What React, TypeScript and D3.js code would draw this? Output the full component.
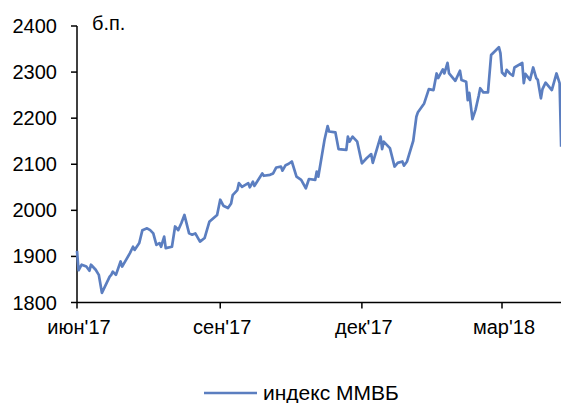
import * as d3 from "d3";

// индекс ММВБ, daily-ish readings
const dates = [
  "2017-06-01", "2017-06-02", "2017-06-04", "2017-06-07", "2017-06-09", "2017-06-10",
  "2017-06-13", "2017-06-15", "2017-06-17", "2017-06-20", "2017-06-22", "2017-06-23",
  "2017-06-24", "2017-06-26", "2017-06-29", "2017-06-30", "2017-07-05", "2017-07-07",
  "2017-07-08", "2017-07-11", "2017-07-13", "2017-07-16", "2017-07-18", "2017-07-20",
  "2017-07-22", "2017-07-24", "2017-07-25", "2017-07-27", "2017-07-28", "2017-08-01",
  "2017-08-03", "2017-08-05", "2017-08-07", "2017-08-09", "2017-08-12", "2017-08-14",
  "2017-08-16", "2017-08-19", "2017-08-22", "2017-08-25", "2017-08-30", "2017-09-01",
  "2017-09-03", "2017-09-06", "2017-09-08", "2017-09-09", "2017-09-12", "2017-09-13",
  "2017-09-15", "2017-09-19", "2017-09-20", "2017-09-22", "2017-09-23", "2017-09-28",
  "2017-09-29", "2017-10-03", "2017-10-05", "2017-10-07", "2017-10-10", "2017-10-11",
  "2017-10-13", "2017-10-15", "2017-10-17", "2017-10-20", "2017-10-23", "2017-10-26",
  "2017-10-28", "2017-11-01", "2017-11-02", "2017-11-03", "2017-11-07", "2017-11-09",
  "2017-11-10", "2017-11-14", "2017-11-16", "2017-11-21", "2017-11-22", "2017-11-23",
  "2017-11-25", "2017-11-28", "2017-12-01", "2017-12-04", "2017-12-07", "2017-12-08",
  "2017-12-13", "2017-12-14", "2017-12-15", "2017-12-19", "2017-12-22", "2017-12-24",
  "2017-12-27", "2017-12-28", "2017-12-30", "2018-01-03", "2018-01-05", "2018-01-06",
  "2018-01-10", "2018-01-13", "2018-01-16", "2018-01-18", "2018-01-19", "2018-01-22",
  "2018-01-23", "2018-01-25", "2018-01-26", "2018-01-30", "2018-02-02", "2018-02-03",
  "2018-02-06", "2018-02-07", "2018-02-08", "2018-02-10", "2018-02-12", "2018-02-14",
  "2018-02-15", "2018-02-17", "2018-02-20", "2018-02-22", "2018-02-27", "2018-02-28",
  "2018-03-01", "2018-03-03", "2018-03-04", "2018-03-06", "2018-03-08", "2018-03-09",
  "2018-03-14", "2018-03-15", "2018-03-16", "2018-03-19", "2018-03-21", "2018-03-23",
  "2018-03-24", "2018-03-26", "2018-03-27", "2018-03-29", "2018-04-02", "2018-04-05",
  "2018-04-07", "2018-04-08",
];

const values = [
  1912, 1870, 1882, 1878, 1869, 1882,
  1871, 1860, 1821, 1842, 1856, 1860,
  1867, 1860, 1889, 1878, 1907, 1921,
  1914, 1929, 1957, 1961, 1957, 1950,
  1925, 1929, 1921, 1943, 1918, 1921,
  1965, 1957, 1972, 1990, 1950, 1947,
  1950, 1932, 1940, 1975, 1990, 2023,
  2010, 2005, 2015, 2033, 2044, 2059,
  2051, 2059, 2050, 2062, 2053, 2080,
  2075, 2077, 2080, 2093, 2095, 2086,
  2098, 2101, 2106, 2073, 2066, 2048,
  2068, 2066, 2084, 2073, 2153, 2183,
  2171, 2169, 2133, 2131, 2160, 2149,
  2160, 2149, 2102, 2113, 2122, 2103,
  2160, 2133, 2149, 2135, 2095, 2103,
  2106, 2097, 2106, 2151, 2203, 2213,
  2232, 2263, 2261, 2297, 2287, 2306,
  2297, 2320, 2297, 2281, 2303, 2283,
  2279, 2239, 2255, 2198, 2218, 2248,
  2265, 2256, 2256, 2337, 2354, 2341,
  2299, 2292, 2305, 2297, 2292, 2310,
  2320, 2276, 2296, 2283, 2310, 2287,
  2283, 2243, 2263, 2277, 2261, 2297,
  2276, 2138,
];

const yTicks = [1800, 1900, 2000, 2100, 2200, 2300, 2400];
const xTickDates = ["2017-06-01", "2017-09-01", "2017-12-01", "2018-03-01"];
const monthNames = ["янв", "фев", "мар", "апр", "май", "июн", "июл", "авг", "сен", "окт", "ноя", "дек"];
const unitLabel = "б.п.";
const seriesName = "индекс ММВБ";

const W = 561;
const H = 403;
const FONT = "'Liberation Sans', Arial, sans-serif";
const LINE_COLOR = "#5b7ec0";

export default function App() {
  const parse = d3.timeParse("%Y-%m-%d");
  const data = dates.map((d, i) => ({ date: parse(d) as Date, value: values[i] }));

  const x = d3
    .scaleTime()
    .domain([parse("2017-06-01") as Date, parse("2018-03-01") as Date])
    .range([77, 502]);
  const y = d3.scaleLinear().domain([1800, 2400]).range([302.5, 26]);

  const line = d3
    .line<{ date: Date; value: number }>()
    .x((d) => x(d.date))
    .y((d) => y(d.value));

  const fmt = (d: Date) => `${monthNames[d.getMonth()]}'${String(d.getFullYear()).slice(2)}`;

  return (
    <svg
      width={W}
      height={H}
      style={{ position: "absolute", left: 0, top: 0, background: "#fff" }}
      fontFamily={FONT}
    >
      {/* y axis */}
      <line x1={77} x2={77} y1={y(2400)} y2={y(1800)} stroke="#000" strokeWidth={1.5} />
      {yTicks.map((t) => (
        <g key={t}>
          <line x1={71} x2={77} y1={y(t)} y2={y(t)} stroke="#000" strokeWidth={1.5} />
          <text x={57} y={y(t)} dy="0.35em" textAnchor="end" fontSize={20} fill="#000">
            {t}
          </text>
        </g>
      ))}
      <text x={92} y={30} fontSize={20} fill="#000">
        {unitLabel}
      </text>

      {/* x axis */}
      <line x1={77} x2={W} y1={y(1800)} y2={y(1800)} stroke="#000" strokeWidth={1.5} />
      {xTickDates.map((s) => {
        const d = parse(s) as Date;
        return (
          <g key={s}>
            <line x1={x(d)} x2={x(d)} y1={y(1800)} y2={y(1800) + 6} stroke="#000" strokeWidth={1.5} />
            <text x={x(d) + 2} y={334} textAnchor="middle" fontSize={20} fill="#000">
              {fmt(d)}
            </text>
          </g>
        );
      })}

      {/* series */}
      <path d={line(data) ?? ""} fill="none" stroke={LINE_COLOR} strokeWidth={2.7} strokeLinejoin="round" />

      {/* legend */}
      <line x1={204} x2={257} y1={393} y2={393} stroke={LINE_COLOR} strokeWidth={2.7} />
      <text x={263} y={393} dy="0.35em" fontSize={21} fill="#000">
        {seriesName}
      </text>
    </svg>
  );
}
